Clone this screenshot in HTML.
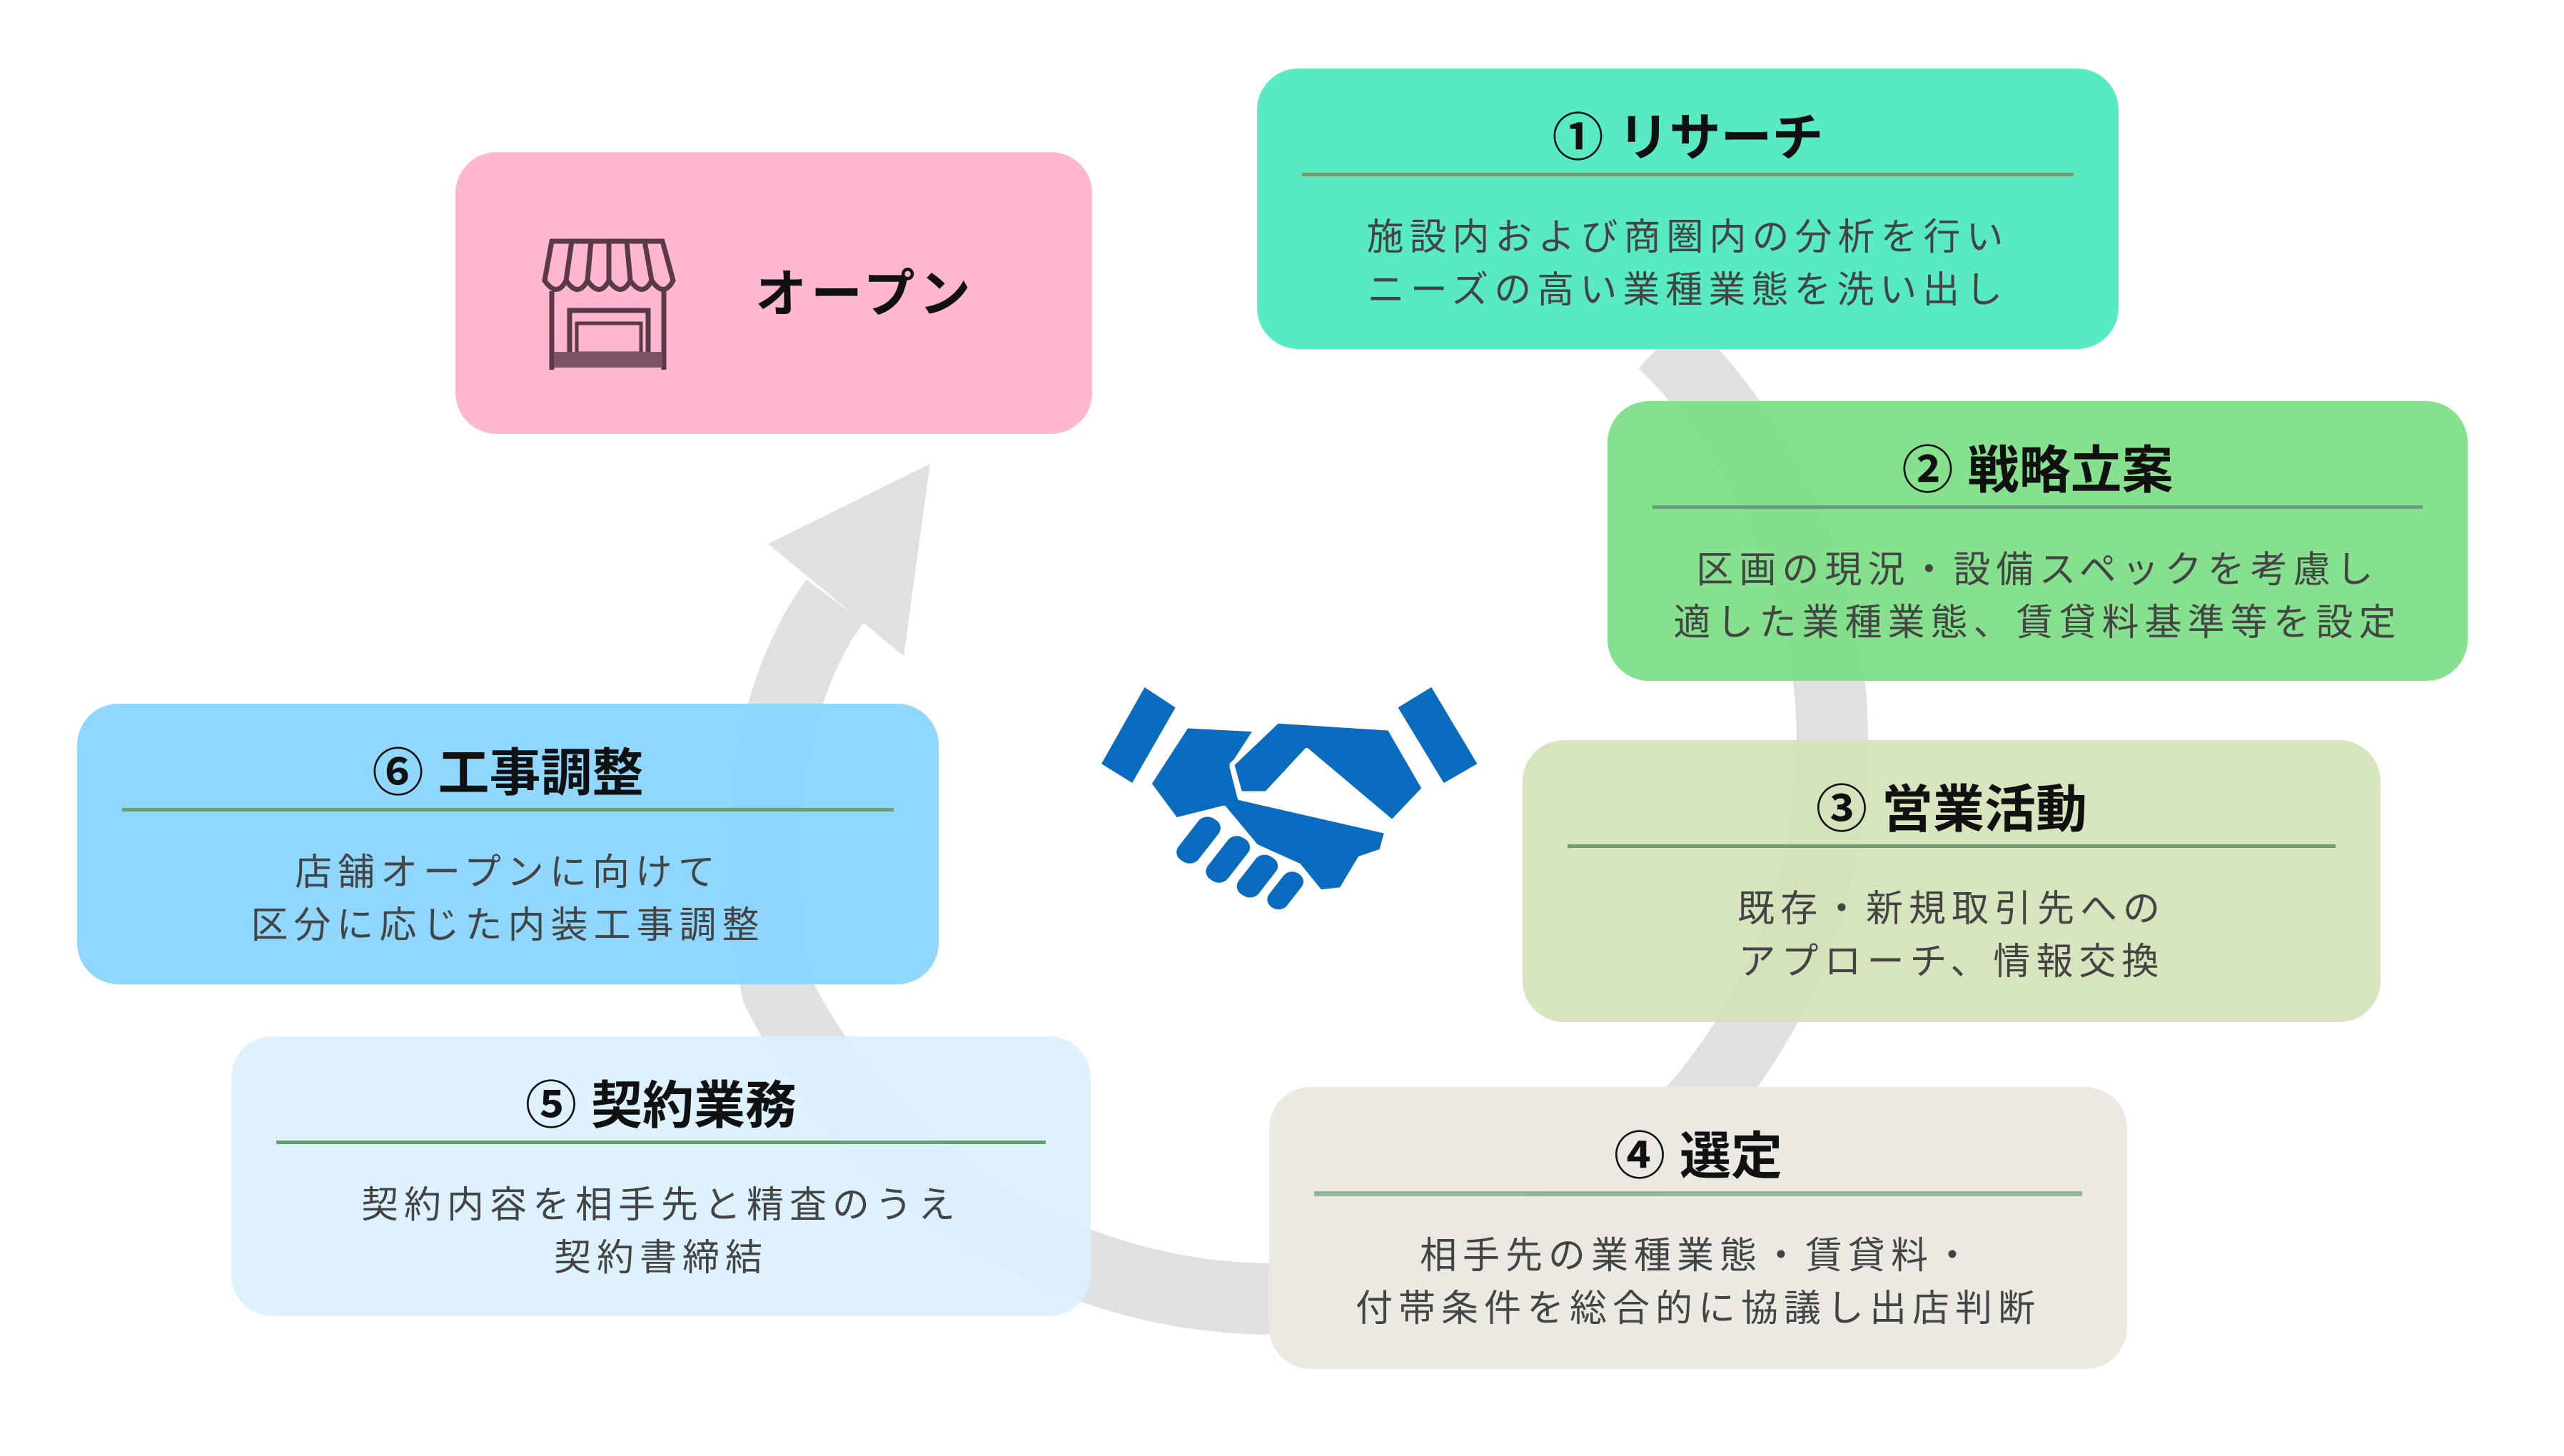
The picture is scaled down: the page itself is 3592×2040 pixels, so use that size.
<!DOCTYPE html>
<html><head><meta charset="utf-8"><style>
html,body{margin:0;padding:0;background:#fff;}
body{width:3592px;height:2040px;position:relative;overflow:hidden;font-family:"Liberation Sans","Noto Sans CJK JP",sans-serif;}
.box{position:absolute;border-radius:58px;}
.t{position:absolute;left:0;right:0;text-align:center;font-weight:bold;font-size:72px;color:#111;line-height:1;}
.ln{position:absolute;left:63px;right:63px;height:5px;background:#6a9e76;}
.b{position:absolute;left:0;right:0;text-align:center;font-size:52px;letter-spacing:8px;color:#444;line-height:74px;}
svg{position:absolute;left:0;top:0;}
</style></head><body>
<svg width="3592" height="2040" viewBox="0 0 3592 2040">
<path d="M2330 480 A780 780 0 1 1 1089 1388 C1040 1150 1090 950 1170 842" fill="none" stroke="#e0e0e0" stroke-width="100"/>
<polygon points="1303,650 1076,762 1266,919" fill="#e0e0e0"/>
</svg>

<div class="box" style="left:638px;top:213px;width:892px;height:395px;background:rgba(255,177,205,0.92);">
<svg width="892" height="395" viewBox="0 0 892 395" style="left:0;top:0">
<g fill="none" stroke="#5a3a48" stroke-width="7">
<path d="M135 125 L290 125 L305 180 Q292 205 275 180 Q262 205 245 180 Q232 205 215 180 Q202 205 185 180 Q172 205 155 180 Q142 205 125 180 Z"/>
<path d="M155 180 L163 125 M185 180 L190 125 M215 180 L215 125 M245 180 L240 125 M275 180 L265 125"/>
<path d="M135 195 L135 305 M292 195 L292 305"/>
<rect x="160" y="222" width="110" height="75"/>
<rect x="170" y="240" width="90" height="42" stroke-width="5"/>
</g>
<rect x="138" y="280" width="152" height="22" fill="#7a5565"/>
</svg>
<div style="position:absolute;left:420px;top:164px;font-size:72px;font-weight:bold;letter-spacing:6px;color:#111;line-height:1;">オープン</div>
</div>

<div class="box" style="left:1761px;top:96px;width:1207px;height:393px;background:rgba(74,232,190,0.93);">
<div class="t" style="top:62px;">① リサーチ</div><div class="ln" style="top:146px;"></div>
<div class="b" style="top:200px;">施設内および商圏内の分析を行い<br>ニーズの高い業種業態を洗い出し</div></div>

<div class="box" style="left:2252px;top:562px;width:1205px;height:392px;background:rgba(125,223,134,0.93);">
<div class="t" style="top:62px;">② 戦略立案</div><div class="ln" style="top:146px;"></div>
<div class="b" style="top:200px;">区画の現況・設備スペックを考慮し<br>適した業種業態、賃貸料基準等を設定</div></div>

<div class="box" style="left:2133px;top:1037px;width:1202px;height:395px;background:rgba(211,227,184,0.93);">
<div class="t" style="top:62px;">③ 営業活動</div><div class="ln" style="top:146px;"></div>
<div class="b" style="top:200px;">既存・新規取引先への<br>アプローチ、情報交換</div></div>

<div class="box" style="left:1778px;top:1523px;width:1202px;height:395px;background:rgba(234,232,224,0.95);">
<div class="t" style="top:62px;">④ 選定</div><div class="ln" style="top:146px;background:#8fb896;height:7px;"></div>
<div class="b" style="top:200px;">相手先の業種業態・賃貸料・<br>付帯条件を総合的に協議し出店判断</div></div>

<div class="box" style="left:324px;top:1452px;width:1204px;height:392px;background:rgba(217,241,253,0.9);">
<div class="t" style="top:62px;">⑤ 契約業務</div><div class="ln" style="top:146px;"></div>
<div class="b" style="top:200px;">契約内容を相手先と精査のうえ<br>契約書締結</div></div>

<div class="box" style="left:108px;top:986px;width:1207px;height:393px;background:rgba(133,212,252,0.92);">
<div class="t" style="top:62px;">⑥ 工事調整</div><div class="ln" style="top:146px;"></div>
<div class="b" style="top:200px;">店舗オープンに向けて<br>区分に応じた内装工事調整</div></div>

<svg width="580" height="360" viewBox="0 0 1550 1070" preserveAspectRatio="none" style="left:1535px;top:950px;">
<g fill="#0a6cbf" stroke="#fff" stroke-width="18" stroke-linejoin="round">
<polygon points="180,25 310,120 140,450 10,360"/>
<polygon points="1260,25 1120,120 1300,450 1440,360"/>
<polygon points="340,200 600,215 510,370 540,500 1090,640 1070,720 990,750 920,880 840,890 760,780 600,700 480,540 300,590 200,440"/>
<polygon points="680,180 1100,210 1230,460 1110,600 790,300 640,480 540,480 510,360"/>
<rect x="330" y="560" width="110" height="230" rx="50" transform="rotate(35 385 675)"/>
<rect x="440" y="640" width="110" height="230" rx="50" transform="rotate(35 495 755)"/>
<rect x="550" y="720" width="110" height="210" rx="50" transform="rotate(35 605 825)"/>
<rect x="660" y="790" width="100" height="190" rx="48" transform="rotate(35 710 885)"/>
</g>
</svg>
</body></html>
